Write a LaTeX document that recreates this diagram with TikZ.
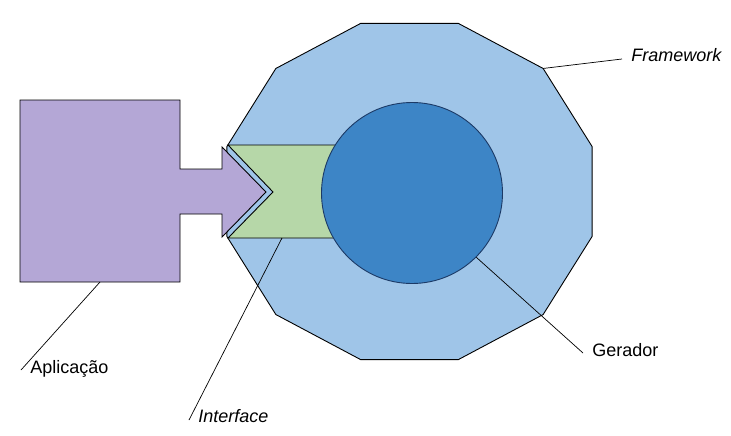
\documentclass[tikz,border=0pt]{standalone}
\usepackage{fontspec}
\setmainfont{Liberation Sans}
\definecolor{appcolor}{HTML}{B4A7D6}
\definecolor{fwcolor}{HTML}{9FC5E8}
\definecolor{ifcolor}{HTML}{B6D7A8}
\definecolor{gencolor}{HTML}{3D85C6}
\definecolor{gendraw}{HTML}{1C3A66}
\begin{document}
\begin{tikzpicture}[x=1pt,y=-1pt,line width=0.9pt,
  outlined/.style={draw=black,line join=miter},
  leader/.style={draw=black,line width=0.7pt},
  caption/.style={inner xsep=9pt,inner ysep=0pt,anchor=base west,font=\fontsize{18}{22}\selectfont}]
  \useasboundingbox (0,0) rectangle (731,436);

  % Framework
  \path[outlined,fill=fwcolor] plot[samples at={15,45,...,345}] ({409.5+189*cos(\x)},{191.5-174*sin(\x)}) -- cycle;
  \coordinate (fw-vertex) at ({409.5+189*cos(45)},{191.5-174*sin(45)});

  % Aplicacao
  \path[outlined,fill=appcolor] (20,100) -- (180,100) -- (180,169) -- (222,169) -- (222,147) -- (266,192)
    -- (222,237) -- (222,214) -- (180,214) -- (180,282) -- (20,282) -- cycle;
  \coordinate (app-point) at (100,282);

  % Interface
  \path[outlined,fill=ifcolor] (228,145) -- (345,145) -- (345,238) -- (228,238) -- (273,192) -- cycle;
  \coordinate (if-point) at (282,238);

  % Gerador
  \node[circle,draw=gendraw,fill=gencolor,minimum size=181pt,inner sep=0pt] (gerador) at (412,193) {};

  \node[caption] (app-label) at (21,373) {Aplicação};
  \node[caption] (if-label) at (189,422) {\itshape Interface};
  \node[caption] (fw-label) at (622,62) {\itshape Framework};
  \node[caption] (gen-label) at (583,356) {Gerador};

  \draw[leader] (app-point) -- ([yshift=3pt]app-label.base west);
  \draw[leader] (if-point) -- ([yshift=2pt]if-label.base west);
  \draw[leader] (fw-vertex) -- ([yshift=3pt]fw-label.base west);
  \draw[leader] (gerador.-45) -- ([yshift=3pt]gen-label.base west);
\end{tikzpicture}
\end{document}
